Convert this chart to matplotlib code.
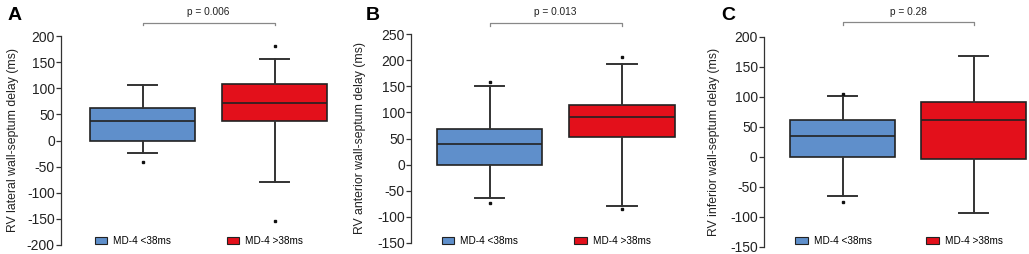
import matplotlib
matplotlib.use("Agg")
import matplotlib.pyplot as plt
import matplotlib.transforms as mtransforms
from matplotlib.patches import Patch
from matplotlib.legend import Legend

plt.rcParams['font.family'] = ['Liberation Sans', 'DejaVu Sans']

groups = ["MD-4 <38ms", "MD-4 >38ms"]
colors = ["#5F8FCB", "#E3101B"]
panel_letters = ["A", "B", "C"]
ylabels = ["RV lateral wall-septum delay (ms)",
           "RV anterior wall-septum delay (ms)",
           "RV inferior wall-septum delay (ms)"]
p_values = ["p = 0.006", "p = 0.013", "p = 0.28"]

# [whislo, q1, med, q3, whishi]
lateral_stats = [[-24, 0, 36.5, 62, 106], [-80, 36.5, 72, 108, 156]]
lateral_fliers = [[-42], [181, -154]]
anterior_stats = [[-64, 0, 40, 69, 150], [-80, 52, 90.5, 115, 192]]
anterior_fliers = [[158, -73], [206, -85]]
inferior_stats = [[-65.5, 0, 35, 62, 100.5], [-93, -3, 60.5, 91.5, 168]]
inferior_fliers = [[104, -75.5], []]

yticks = [list(range(-200, 201, 50)), list(range(-150, 251, 50)), list(range(-150, 201, 50))]

all_stats = [lateral_stats, anterior_stats, inferior_stats]
all_fliers = [lateral_fliers, anterior_fliers, inferior_fliers]

W, H = 1029, 254
fig = plt.figure(figsize=(W / 100, H / 100), dpi=100)

# layout in pixels: spine x, box centers, right edge, top y, bottom y
layout = [
    dict(spine=61, c1=142.5, c2=274.5, right=340, top=36, bottom=245, ylab=13, letter=15),
    dict(spine=411, c1=489.5, c2=622, right=685, top=34, bottom=243, ylab=360, letter=373),
    dict(spine=764, c1=842.5, c2=973.5, right=1028, top=36.7, bottom=246.7, ylab=714, letter=728),
]

for i in range(3):
    L = layout[i]
    sp = L['c2'] - L['c1']
    x0 = 1 - (L['c1'] - L['spine']) / sp
    x1 = 2 + (L['right'] - L['c2']) / sp
    ax = fig.add_axes([L['spine'] / W, (H - L['bottom']) / H,
                       (L['right'] - L['spine']) / W, (L['bottom'] - L['top']) / H])
    stats = []
    for j in range(2):
        s = all_stats[i][j]
        stats.append(dict(whislo=s[0], q1=s[1], med=s[2], q3=s[3], whishi=s[4],
                          fliers=all_fliers[i][j], label=groups[j]))
    bp = ax.bxp(stats, positions=[1, 2], widths=0.795, capwidths=0.22,
                patch_artist=True, showfliers=True,
                boxprops=dict(linewidth=1.2, edgecolor="#222222"),
                medianprops=dict(color="#222222", linewidth=1.2),
                whiskerprops=dict(color="#333333", linewidth=1.4),
                capprops=dict(color="#333333", linewidth=1.4),
                flierprops=dict(marker='s', markersize=1.8, markerfacecolor='#111111',
                                markeredgecolor='#111111', linestyle='none'))
    for patch, c in zip(bp['boxes'], colors):
        patch.set_facecolor(c)
    ax.set_xlim(x0, x1)
    yt = yticks[i]
    ax.set_ylim(yt[0], yt[-1])
    ax.set_yticks(yt)
    ax.set_yticklabels([str(v) for v in yt], fontsize=10, color='#222222')
    ax.set_xticks([])
    for s in ['top', 'right', 'bottom']:
        ax.spines[s].set_visible(False)
    ax.spines['left'].set_linewidth(0.9)
    ax.spines['left'].set_color('#333333')
    ax.tick_params(axis='y', length=3.5, width=0.9, color='#333333', pad=1)
    ax.patch.set_alpha(0)

    # y label
    fig.text(L['ylab'] / W, (H - (L['top'] + L['bottom']) / 2) / H, ylabels[i],
             rotation=90, ha='center', va='center', fontsize=8.8, color='#222222')
    # panel letter
    fig.text(L['letter'] / W, (H - 15) / H, panel_letters[i], ha='center', va='center',
             fontsize=14, fontweight='bold')

    # bracket
    trans = mtransforms.blended_transform_factory(ax.transData, ax.transAxes)
    hpx = L['bottom'] - L['top']
    yb = 1 + (L['top'] - 22.5) / hpx
    yt_ = yb - 3 / hpx
    ax.plot([1, 1, 2, 2], [yt_, yb, yb, yt_], transform=trans, color='#888888',
            linewidth=0.9, clip_on=False)
    ax.text(1.5, 1 + (L['top'] - 12) / hpx, p_values[i], transform=trans,
            ha='center', va='center', fontsize=7.3, color='#222222')

    # legends (one per group, placed under each box)
    ly = (L['bottom'] - 240.5) / hpx
    for j in range(2):
        h = Patch(facecolor=colors[j], edgecolor='#222222', linewidth=0.8, label=groups[j])
        leg = Legend(ax, [h], [groups[j]], loc='center left',
                     bbox_to_anchor=(j + 1 - 0.36, ly), bbox_transform=trans,
                     frameon=False, fontsize=7.2, handlelength=1.25, handleheight=0.7,
                     handletextpad=0.6, borderpad=0, borderaxespad=0)
        ax.add_artist(leg)

fig.savefig("out.png", dpi=100)
